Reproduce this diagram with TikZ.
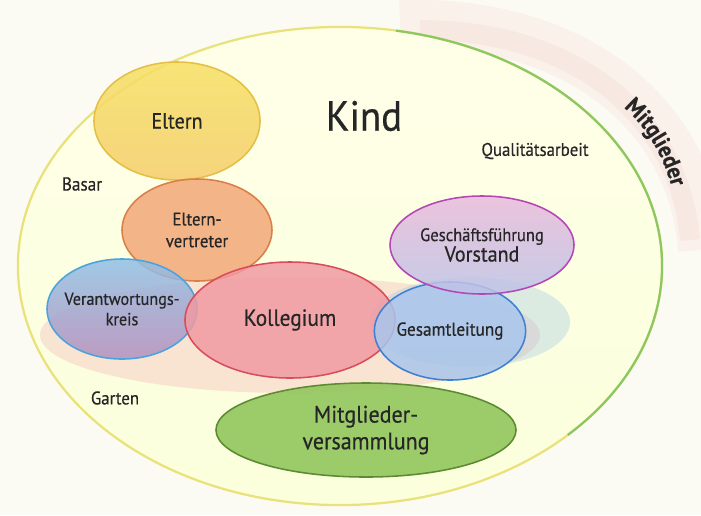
\documentclass[tikz,border=0pt]{standalone}
\usepackage{fontspec}
\setmainfont[FakeStretch=0.92,FakeBold=0.5]{PT Sans}
\usepackage{tikz}
\usetikzlibrary{shapes.geometric,decorations.text}
\definecolor{paper}{HTML}{FCFBF3}
\definecolor{inkdark}{HTML}{262626}
\definecolor{kindyellow}{HTML}{E9E27A}
\definecolor{kindgreen}{HTML}{8CC862}
\definecolor{rosa}{HTML}{EBB5B5}
\definecolor{gelb}{HTML}{F6E063}
\definecolor{gelbrand}{HTML}{E5BF45}
\definecolor{orange}{HTML}{F2A878}
\definecolor{orangerand}{HTML}{D9804A}
\definecolor{blau}{HTML}{8FC0E6}
\definecolor{blaurand}{HTML}{4AA3DD}
\definecolor{lila}{HTML}{B390C0}
\definecolor{rot}{HTML}{F09AA2}
\definecolor{rotrand}{HTML}{D94C5C}
\definecolor{violett}{HTML}{E9B9DC}
\definecolor{violettrand}{HTML}{B546B5}
\definecolor{hellblau}{HTML}{A9C6EC}
\definecolor{blaurand2}{HTML}{3F80D2}
\definecolor{gruen}{HTML}{8CC455}
\definecolor{gruenrand}{HTML}{5C8A32}

\begin{document}
\begin{tikzpicture}[x=0.025cm,y=-0.025cm,
  blob/.style={ellipse,inner sep=0pt,align=center,line width=1.1pt,
    fill opacity=0.85,text opacity=1,text=inkdark},
  lbl/.style={text=inkdark,inner sep=1pt}]
\useasboundingbox (0,0) rectangle (701,515);
\fill[paper] (0,0) rectangle (701,515);
% Mitglieder ring
\draw[rosa,line width=34pt,opacity=0.14] (400,24) .. controls (570,18) and (692,110) .. (702,250);
\draw[rosa,line width=14pt,opacity=0.14] (420,30) .. controls (580,30) and (680,120) .. (690,240);
% big circle
\node[ellipse,draw=kindyellow,line width=1.6pt,minimum width=16.1cm,minimum height=11.95cm,
  top color=yellow!9,bottom color=green!12!yellow!14] (kreis) at (340,266) {};
\draw[kindgreen,line width=1.6pt] (kreis.center) ++(-80:322 and 239)
  arc[start angle=-80,end angle=45,x radius=322,y radius=239];
% haze behind the circles
\fill[rot!80!violett,opacity=0.28] (290,335) ellipse [x radius=250,y radius=58];
\fill[blau,opacity=0.3] (470,322) ellipse [x radius=100,y radius=45];

\node[blob,draw=gelbrand,top color=gelb,bottom color=orange!35!gelb,minimum width=4.15cm,minimum height=2.95cm,
  font=\fontsize{15.5}{17}\selectfont] (eltern) at (177,121) {Eltern};
\node[blob,draw=orangerand,fill=orange,minimum width=3.75cm,minimum height=2.55cm,
  font=\fontsize{13}{15.5}\selectfont] (vertreter) at (197,230) {Eltern-\\vertreter};
\node[blob,draw=blaurand,top color=blau,bottom color=lila,minimum width=3.75cm,minimum height=2.5cm,
  inner xsep=-10pt,font=\fontsize{12.5}{14.5}\selectfont] (kreis2) at (122,309) {Verantwortungs-\\kreis};
\node[blob,draw=rotrand,fill=rot,minimum width=5.25cm,minimum height=2.9cm,
  font=\fontsize{16.5}{18}\selectfont] (kollegium) at (290,320) {Kollegium};
\node[blob,draw=blaurand2,fill=hellblau,minimum width=3.75cm,minimum height=2.45cm,
  font=\fontsize{13.3}{15}\selectfont] (leitung) at (450,331) {Gesamtleitung};
\node[blob,draw=violettrand,top color=violett,bottom color=hellblau!70!violett,minimum width=4.6cm,minimum height=2.45cm,
  align=center] (vorstand) at (482,245) {\fontsize{12.8}{15}\selectfont Geschäftsführung\\\fontsize{15.5}{17}\selectfont Vorstand};
\node[blob,draw=gruenrand,fill=gruen,minimum width=7.5cm,minimum height=2.35cm,
  font=\fontsize{17}{19}\selectfont] (versammlung) at (366,430) {Mitglieder-\\versammlung};

\node[lbl,font=\fontsize{30}{34}\selectfont] (kind) at (364,116) {Kind};
\node[lbl,font=\fontsize{13}{15}\selectfont] (quali) at (535,151) {Qualitätsarbeit};
\node[lbl,font=\fontsize{13.3}{15}\selectfont] (basar) at (82,184) {Basar};
\node[lbl,font=\fontsize{13}{15}\selectfont] (garten) at (115,398) {Garten};
\path[decorate,decoration={text along path,text align=center,
  text={|\bfseries\fontsize{16.5}{18}\selectfont\color{inkdark}|Mitglieder}}]
  (608,96) .. controls (640,116) and (666,152) .. (676,206);
\end{tikzpicture}
\end{document}
